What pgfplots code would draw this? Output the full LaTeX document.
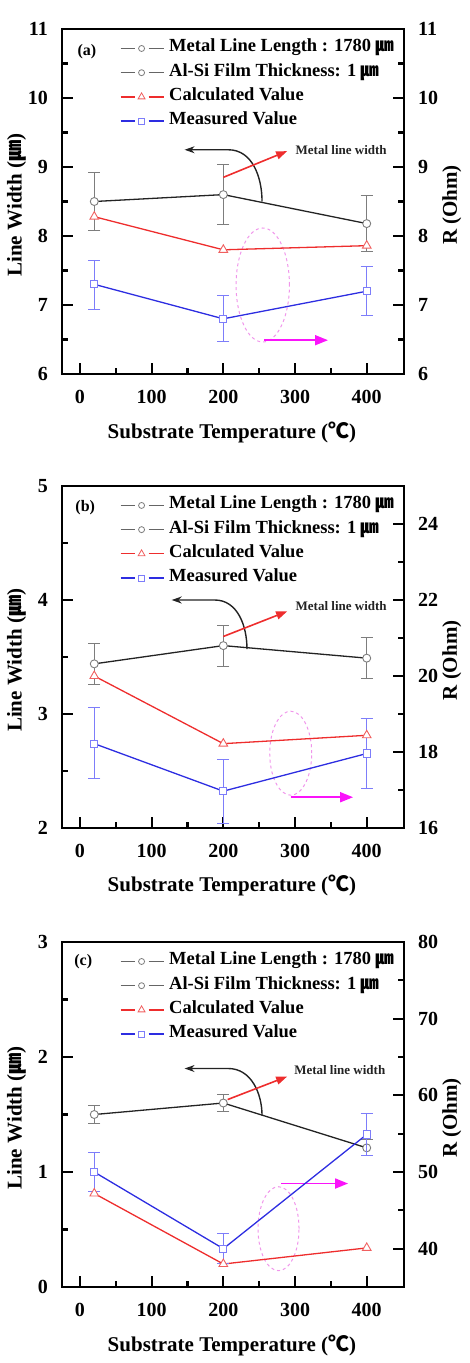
\documentclass[border=0pt]{standalone}
\usepackage{fontspec}
\setmainfont{Liberation Serif}
\newfontfamily\cjk{Noto Sans CJK KR}
\usepackage{pgfplots}
\pgfplotsset{compat=1.18}
\usepackage{pgfplotstable}
\usetikzlibrary{arrows.meta}

\definecolor{lineK}{RGB}{35,35,35}
\definecolor{markK}{RGB}{125,125,125}
\definecolor{lineR}{RGB}{238,45,45}
\definecolor{markR}{RGB}{240,95,95}
\definecolor{lineB}{RGB}{45,45,225}
\definecolor{markB}{RGB}{125,125,250}
\definecolor{ellcol}{RGB}{240,150,235}
\definecolor{magcol}{RGB}{250,20,250}

\newcommand{\um}{{\cjk ㎛}}
\newcommand{\degC}{{\cjk ℃}}

% ---------------- data ----------------
% (a)
\pgfplotstableread{
x   y    e
20  8.50 0.42
200 8.60 0.43
400 8.18 0.41
}\blackA
\pgfplotstableread{
x   y
20  8.28
200 7.80
400 7.86
}\redA
\pgfplotstableread{
x   y    ep   em
20  7.30 0.34 0.37
200 6.80 0.34 0.33
400 7.20 0.36 0.35
}\blueA
% (b)
\pgfplotstableread{
x   y    e
20  3.44 0.18
200 3.60 0.18
400 3.49 0.18
}\blackB
\pgfplotstableread{
x   y
20  20.00
200 18.22
400 18.44
}\redB
\pgfplotstableread{
x   y     ep   em
20  18.22 0.94 0.93
200 16.97 0.83 0.86
400 17.96 0.91 0.91
}\blueB
% (c)
\pgfplotstableread{
x   y    e
20  1.50 0.075
200 1.60 0.075
400 1.21 0.07
}\blackC
\pgfplotstableread{
x   y
20  47.2
200 38.0
400 40.1
}\redC
\pgfplotstableread{
x   y    ep  em
20  50.0 2.5 2.6
200 40.0 2.0 1.9
400 54.9 2.7 2.7
}\blueC

\pgfplotsset{
  panel/.style={
    scale only axis, width=342pt,
    xmin=-25, xmax=452,
    xtick={0,100,...,400}, minor x tick num=1,
    minor y tick num=1,
    tick align=inside,
    major tick length=11pt, minor tick length=6pt,
    tick style={black, line width=2.2pt},
    axis line style={line width=2.2pt},
    tick label style={font=\fontsize{20}{24}\selectfont\bfseries},
    /pgf/number format/assume math mode=true,
    yticklabel style={inner xsep=14pt},
    xticklabel style={inner ysep=16pt},
    label style={font=\fontsize{21}{25}\selectfont\bfseries},
    clip=false,
  },
  leftaxis/.style={panel, xtick pos=left, ytick pos=left,
    xlabel={Substrate Temperature (\degC)},
    ylabel={Line Width (\um)},
    xlabel style={at={(axis description cs:0.497,-0.168)}, anchor=center},
    ylabel style={at={(axis description cs:-0.132,0.49)}, anchor=center},
  },
  rightaxis/.style={panel, axis x line=none, axis y line*=right, ytick pos=right,
    ylabel={R (Ohm)},
    ylabel style={at={(axis description cs:1.14,0.49)}, anchor=center},
    legend style={draw=none, fill=none, at={(axis description cs:0.16,0.985)},
      anchor=north west, font=\fontsize{18.5}{22}\selectfont\bfseries,
      row sep=0pt, column sep=5pt,
      nodes={inner sep=0pt, text height=15.5pt, text depth=8.7pt}},
    legend cell align=left,
    legend image code/.code={
      \draw[##1] (0pt,0pt) -- (14pt,0pt);
      \draw[##1] (28pt,0pt) -- (43pt,0pt);
      \draw[##1,only marks] plot coordinates {(21pt,0pt)};
    },
  },
  kplot/.style={lineK, line width=1.3pt, mark=*, mark size=4pt,
    mark options={draw=markK, fill=white, line width=0.9pt},
    error bars/y dir=both, error bars/y explicit,
    error bars/error bar style={markK, line width=1pt},
    error bars/error mark options={rotate=90, markK, line width=1pt, mark size=6pt}},
  rplot/.style={lineR, line width=1.3pt, mark=triangle*, mark size=5pt,
    mark options={draw=markR, fill=white, line width=0.9pt}},
  bplot/.style={lineB, line width=1.3pt, mark=square*, mark size=3.6pt,
    mark options={draw=markB, fill=white, line width=0.9pt},
    error bars/y dir=both, error bars/y explicit,
    error bars/error bar style={markB, line width=1pt},
    error bars/error mark options={rotate=90, markB, line width=1pt, mark size=6pt}},
  kleg/.style={lineK!70, line width=1.3pt, mark=*, mark size=3pt,
    mark options={draw=markK, fill=white, line width=0.8pt}},
  rleg/.style={lineR, line width=1.3pt, mark=triangle*, mark size=4pt,
    mark options={draw=markR, fill=white, line width=0.8pt}},
  bleg/.style={lineB, line width=1.3pt, mark=square*, mark size=3pt,
    mark options={draw=markB, fill=white, line width=0.8pt}},
}

\newcommand{\legendentries}{%
  \addlegendimage{kleg}\addlegendentry{Metal Line Length : 1780 \um}
  \addlegendimage{kleg}\addlegendentry{Al-Si Film Thickness: 1 \um}
  \addlegendimage{rleg}\addlegendentry{Calculated Value}
  \addlegendimage{bleg}\addlegendentry{Measured Value}
}

\tikzset{
  notefont/.style={font=\fontsize{13}{15}\selectfont\bfseries, text=lineK},
  blackarrow/.style={lineK, line width=1.4pt, -{Stealth[length=10pt,width=7pt]}},
  redarrow/.style={lineR, line width=1.6pt, -{Triangle[length=11pt,width=8pt]}},
  pinkarrow/.style={magcol, line width=1.8pt, -{Triangle[length=13pt,width=10pt]}},
  ringstyle/.style={ellcol, dashed, line width=1pt},
  tickline/.style={black, line width=2.2pt},
}

% inward tick marks along the bottom, left and right frame edges
\newcommand{\bottomticks}{%
  \pgfplotsinvokeforeach{0,100,200,300,400}{%
    \draw[tickline] ({axis cs:##1,0} |- {rel axis cs:0,0}) -- ++(0pt,11pt);}%
  \pgfplotsinvokeforeach{50,150,250,350}{%
    \draw[tickline] ({axis cs:##1,0} |- {rel axis cs:0,0}) -- ++(0pt,6pt);}%
}
\newcommand{\leftticks}[2]{%
  \pgfplotsinvokeforeach{#1}{%
    \draw[tickline] ({rel axis cs:0,0} |- {axis cs:0,##1}) -- ++(11pt,0pt);}%
  \pgfplotsinvokeforeach{#2}{%
    \draw[tickline] ({rel axis cs:0,0} |- {axis cs:0,##1}) -- ++(6pt,0pt);}%
}
\newcommand{\rightticks}[2]{%
  \pgfplotsinvokeforeach{#1}{%
    \draw[tickline] ({rel axis cs:1,0} |- {axis cs:0,##1}) -- ++(-11pt,0pt);}%
  \pgfplotsinvokeforeach{#2}{%
    \draw[tickline] ({rel axis cs:1,0} |- {axis cs:0,##1}) -- ++(-6pt,0pt);}%
}

\begin{document}
\begin{tikzpicture}
\path[use as bounding box] (0,0) rectangle (470pt,-1363pt);

% ===================== (a) =====================
\begin{axis}[leftaxis, height=345pt, at={(62pt,-374pt)}, anchor=south west,
  ymin=6, ymax=11, ytick={6,...,11}]
  \bottomticks
  \leftticks{7,8,9,10}{6.5,7.5,8.5,9.5,10.5}
  \addplot[kplot] table[x=x, y=y, y error=e] {\blackA};
  \node[font=\fontsize{16}{18}\selectfont\bfseries] at (axis description cs:0.073,0.933) {(a)};
  \draw[blackarrow] (axis cs:254,8.50) to[out=90,in=0] (axis cs:207,9.25) -- (axis cs:146,9.25);
  \draw[redarrow] (axis cs:200,8.85) -- (axis cs:289,9.23);
  \node[notefont, anchor=west] at (axis cs:296,9.25) {Metal line width};
  \draw[ringstyle] (axis cs:255,7.29) ellipse [x radius=26.7pt, y radius=57pt];
  \draw[pinkarrow] (axis cs:257,6.49) -- (axis cs:346,6.49);
\end{axis}
\begin{axis}[rightaxis, height=345pt, at={(62pt,-374pt)}, anchor=south west,
  ymin=6, ymax=11, ytick={6,...,11}]
  \rightticks{7,8,9,10}{6.5,7.5,8.5,9.5,10.5}
  \legendentries
  \addplot[forget plot, rplot] table[x=x, y=y] {\redA};
  \addplot[forget plot, bplot] table[x=x, y=y, y error plus=ep, y error minus=em] {\blueA};
\end{axis}

% ===================== (b) =====================
\begin{axis}[leftaxis, height=342pt, at={(62pt,-828pt)}, anchor=south west,
  ymin=2, ymax=5, ytick={2,...,5}]
  \bottomticks
  \leftticks{3,4}{2.5,3.5,4.5}
  \addplot[kplot] table[x=x, y=y, y error=e] {\blackB};
  \node[font=\fontsize{16}{18}\selectfont\bfseries] at (axis description cs:0.068,0.936) {(b)};
  \draw[blackarrow] (axis cs:233,3.57) to[out=90,in=0] (axis cs:188,4.0) -- (axis cs:128,4.0);
  \draw[redarrow] (axis cs:200,3.68) -- (axis cs:289,3.90);
  \node[notefont, anchor=west] at (axis cs:296,3.95) {Metal line width};
  \draw[ringstyle] (axis cs:294,2.656) ellipse [x radius=21pt, y radius=42pt];
  \draw[pinkarrow] (axis cs:294,2.27) -- (axis cs:381,2.27);
\end{axis}
\begin{axis}[rightaxis, height=342pt, at={(62pt,-828pt)}, anchor=south west,
  ymin=16, ymax=25, ytick={16,18,...,24}]
  \rightticks{18,20,22,24}{17,19,21,23}
  \legendentries
  \addplot[forget plot, rplot] table[x=x, y=y] {\redB};
  \addplot[forget plot, bplot] table[x=x, y=y, y error plus=ep, y error minus=em] {\blueB};
\end{axis}

% ===================== (c) =====================
\begin{axis}[leftaxis, height=345pt, at={(62pt,-1287pt)}, anchor=south west,
  ymin=0, ymax=3, ytick={0,...,3}]
  \bottomticks
  \leftticks{1,2}{0.5,1.5,2.5}
  \addplot[kplot] table[x=x, y=y, y error=e] {\blackC};
  \node[font=\fontsize{16}{18}\selectfont\bfseries] at (axis description cs:0.062,0.942) {(c)};
  \draw[blackarrow] (axis cs:254,1.49) to[out=90,in=0] (axis cs:207,1.90) -- (axis cs:146,1.90);
  \draw[redarrow] (axis cs:206,1.63) -- (axis cs:289,1.83);
  \node[notefont, anchor=west] at (axis cs:294,1.89) {Metal line width};
  \draw[ringstyle] (axis cs:277,0.507) ellipse [x radius=20.5pt, y radius=42pt];
  \draw[pinkarrow] (axis cs:281,0.90) -- (axis cs:374,0.90);
\end{axis}
\begin{axis}[rightaxis, height=345pt, at={(62pt,-1287pt)}, anchor=south west,
  ymin=35, ymax=80, ytick={40,50,...,80}]
  \rightticks{40,50,60,70}{45,55,65,75}
  \legendentries
  \addplot[forget plot, rplot] table[x=x, y=y] {\redC};
  \addplot[forget plot, bplot] table[x=x, y=y, y error plus=ep, y error minus=em] {\blueC};
\end{axis}
\end{tikzpicture}
\end{document}
